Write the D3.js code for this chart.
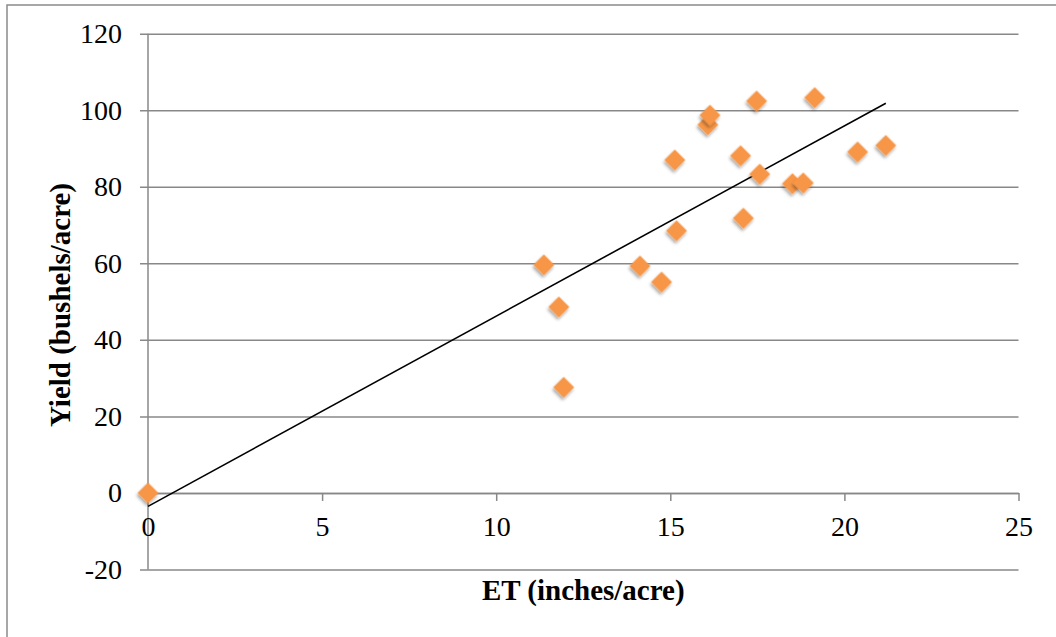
<!DOCTYPE html>
<html>
<head>
<meta charset="utf-8">
<script src="https://cdn.jsdelivr.net/npm/d3@7.9.0/dist/d3.min.js"></script>
<style>
  body { margin: 0; background: #fff; }
  svg text { font-family: "Liberation Serif", "DejaVu Serif", serif; fill: #000; }
</style>
</head>
<body>
<svg id="chart" width="1056" height="637"></svg>
<script>
// ET (inches/acre) vs Yield (bushels/acre)
const etValues = [0, 11.37, 11.80, 11.94, 14.13, 14.75, 15.13, 15.18, 16.08, 16.14,
  17.02, 17.10, 17.48, 17.57, 18.51, 18.82, 19.15, 20.38, 21.19];
const yieldValues = [0, 59.6, 48.6, 27.6, 59.3, 55.1, 87.0, 68.5, 96.2, 98.7,
  88.1, 71.8, 102.4, 83.3, 80.8, 81.0, 103.3, 89.1, 90.8];

// linear trendline as drawn
const trendIntercept = -3.5;
const trendSlope = 4.97;
const trendRange = [0, 21.19];

const xTicks = [0, 5, 10, 15, 20, 25];
const yTicks = [-20, 0, 20, 40, 60, 80, 100, 120];

const svg = d3.select('#chart');

// outer chart frame (runs off the right and bottom)
svg.append('rect')
  .attr('x', 7).attr('y', 5)
  .attr('width', 1100).attr('height', 700)
  .attr('fill', 'none').attr('stroke', '#8a8a8a').attr('stroke-width', 1.5);

const x = d3.scaleLinear().domain([0, 25]).range([148, 1018.5]);
const y = d3.scaleLinear().domain([-20, 120]).range([569.5, 33.7]);
const plotW = x.range()[1] - x.range()[0];

const defs = svg.append('defs');
const shadow = defs.append('filter').attr('id', 'shadow')
  .attr('x', '-50%').attr('y', '-50%').attr('width', '200%').attr('height', '200%');
shadow.append('feDropShadow')
  .attr('dx', 1).attr('dy', 2.5).attr('stdDeviation', 1.6)
  .attr('flood-color', '#000').attr('flood-opacity', 0.35);

const plain = d => String(d);  // keeps the ascii hyphen on -20

// horizontal gridlines with left ticks
const yAxis = d3.axisLeft(y)
  .tickValues(yTicks)
  .tickSize(0)
  .tickFormat(plain);

const gy = svg.append('g')
  .attr('transform', `translate(${x.range()[1]},0)`)
  .call(yAxis);
gy.select('.domain').remove();
gy.selectAll('.tick line')
  .attr('x1', 0)
  .attr('x2', -plotW - 8)
  .attr('stroke', '#888').attr('stroke-width', 1.5);
gy.selectAll('.tick text')
  .attr('x', -plotW - 26)
  .attr('font-size', 28)
  .style('font-family', '"Liberation Serif", serif');

// vertical axis line
svg.append('line')
  .attr('x1', x(0)).attr('x2', x(0))
  .attr('y1', y(120)).attr('y2', y(-20))
  .attr('stroke', '#888').attr('stroke-width', 1.5);

// horizontal axis at y = 0
const xAxis = d3.axisBottom(x)
  .tickValues(xTicks)
  .tickSize(8)
  .tickSizeOuter(0)
  .tickPadding(15)
  .tickFormat(plain);

const gx = svg.append('g')
  .attr('transform', `translate(0,${y(0)})`)
  .call(xAxis);
gx.select('.domain').attr('stroke', '#888').attr('stroke-width', 1.5);
gx.selectAll('.tick line').attr('stroke', '#888').attr('stroke-width', 1.5);
gx.selectAll('.tick text')
  .attr('font-size', 28)
  .style('font-family', '"Liberation Serif", serif');

// trendline
const trend = d3.line()
  .x(d => x(d))
  .y(d => y(trendIntercept + trendSlope * d));
svg.append('path')
  .datum(trendRange)
  .attr('d', trend)
  .attr('fill', 'none')
  .attr('stroke', '#000')
  .attr('stroke-width', 1.6);

// diamond markers
const points = etValues.map((v, i) => ({ et: v, yield: yieldValues[i] }));
const diamond = d3.symbol().type(d3.symbolSquare).size(220);
svg.append('g').selectAll('path')
  .data(points)
  .join('path')
  .attr('d', diamond)
  .attr('transform', d => `translate(${x(d.et)},${y(d.yield)}) rotate(45)`)
  .attr('fill', '#F79646')
  .attr('filter', 'url(#shadow)');

// axis titles
svg.append('text')
  .attr('x', (x.range()[0] + x.range()[1]) / 2)
  .attr('y', 600)
  .attr('text-anchor', 'middle')
  .attr('font-size', 29)
  .attr('font-weight', 'bold')
  .text('ET (inches/acre)');

svg.append('text')
  .attr('transform', `translate(70,305) rotate(-90)`)
  .attr('text-anchor', 'middle')
  .attr('font-size', 29)
  .attr('font-weight', 'bold')
  .text('Yield (bushels/acre)');
</script>
</body>
</html>
